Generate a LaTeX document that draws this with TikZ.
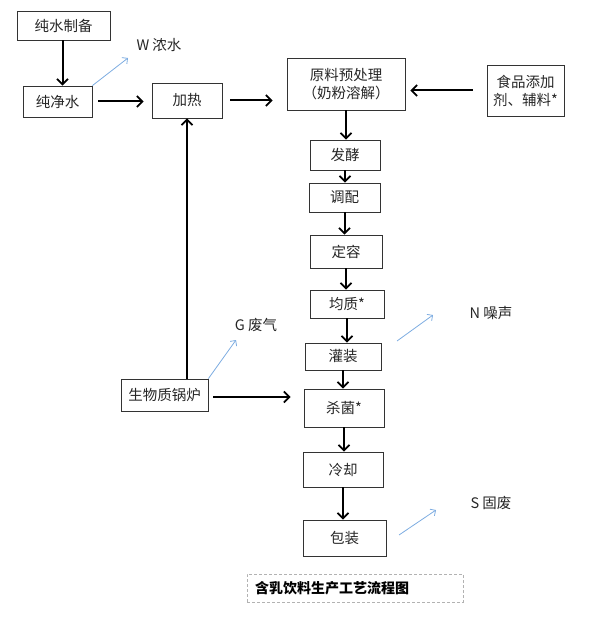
\documentclass[tikz,border=0pt]{standalone}
\usepackage{fontspec}
\setmainfont{Noto Sans CJK SC}
\usetikzlibrary{arrows.meta}
\tikzset{
  box/.style={draw=black!80,line width=.8pt,inner sep=0pt,align=center,text=black!85},
  arr/.style={-{Straight Barb[length=5.5pt,width=11pt,line width=1.7pt]},line width=2pt},
  waste/.style={-{Straight Barb[length=4pt,width=8pt]},draw={rgb,255:red,125;green,172;blue,225},line width=.8pt},
  lbl/.style={inner sep=0pt,text=black!85}
}
\begin{document}
\begin{tikzpicture}[x=1pt,y=-1pt,font=\fontsize{14.5}{18}\selectfont]
  \useasboundingbox(0,0)rectangle(594,623);
  \foreach \n/\x/\y/\w/\h/\t in{%
    csbei/63.5/25.5/93/29/纯水制备, cjs/57.5/101.5/69/31/纯净水, jr/187/100.5/70/35/加热,
    ylcl/346/84/118/52/{原料预处理\\（奶粉溶解）}, spjt/525.5/90.5/77/51/{食品添加\\剂、辅料*},
    fj/345/155/70/30/发酵, tp/344.5/197.5/71/29/调配, dr/346/251.5/72/33/定容,
    jz/347/304/74/28/均质*, gz/343/356.5/76/27/灌装, sj/344/408/80/38/杀菌*,
    lq/343/469.5/80/35/冷却, bz/344.5/538/83/36/包装, gl/164.5/395/87/32/生物质锅炉}{%
    \node[box,minimum width=\w pt,minimum height=\h pt](\n)at(\x,\y){\t};
  }
  \draw[arr]([xshift=-1pt]csbei.south)--([xshift=-1pt]csbei.south|-cjs.north);
  \draw[arr,shorten <=6pt,shorten >=8pt](cjs)--(cjs-|jr.west);
  \draw[arr,shorten <=8pt,shorten >=14pt](jr)--(jr-|ylcl.west);
  \draw[arr,shorten <=14pt,shorten >=5pt](spjt.west)--(spjt.west-|ylcl.east);
  \foreach \a/\b in{ylcl/fj, fj/tp, tp/dr, dr/jz, jz/gz, gz/sj, sj/lq, lq/bz}{%
    \draw[arr](\a.south)--(\a.south|-\b.north);
  }
  \draw[arr](jr.south|-gl.north)--(jr.south);
  \draw[arr,shorten <=5pt,shorten >=13pt]([yshift=-2pt]gl.east)--([yshift=-2pt]gl.east-|sj.west);
  % waste outputs
  \node[lbl](w)at(159,45){W 浓水};
  \node[lbl](g)at(256,325){G 废气};
  \node[lbl](n)at(491,313){N 噪声};
  \node[lbl](s)at(491,503){S 固废};
  \coordinate(wend)at(128,58);
  \coordinate(gend)at(236,340);
  \coordinate(nst)at(397,341);
  \coordinate(nend)at(433,315);
  \coordinate(sst)at(399,535);
  \coordinate(send)at(436,510);
  \draw[waste](cjs.north east)--(wend);
  \draw[waste](gl.north east)--(gend);
  \draw[waste](nst)--(nend);
  \draw[waste](sst)--(send);
  \node[draw=black!30,densely dashed,minimum width=216pt,minimum height=28pt,
        text width=200pt,inner xsep=8pt,align=left,font=\fontsize{14}{17}\selectfont\bfseries]
        (title)at(355,588){含乳饮料生产工艺流程图};
\end{tikzpicture}
\end{document}
